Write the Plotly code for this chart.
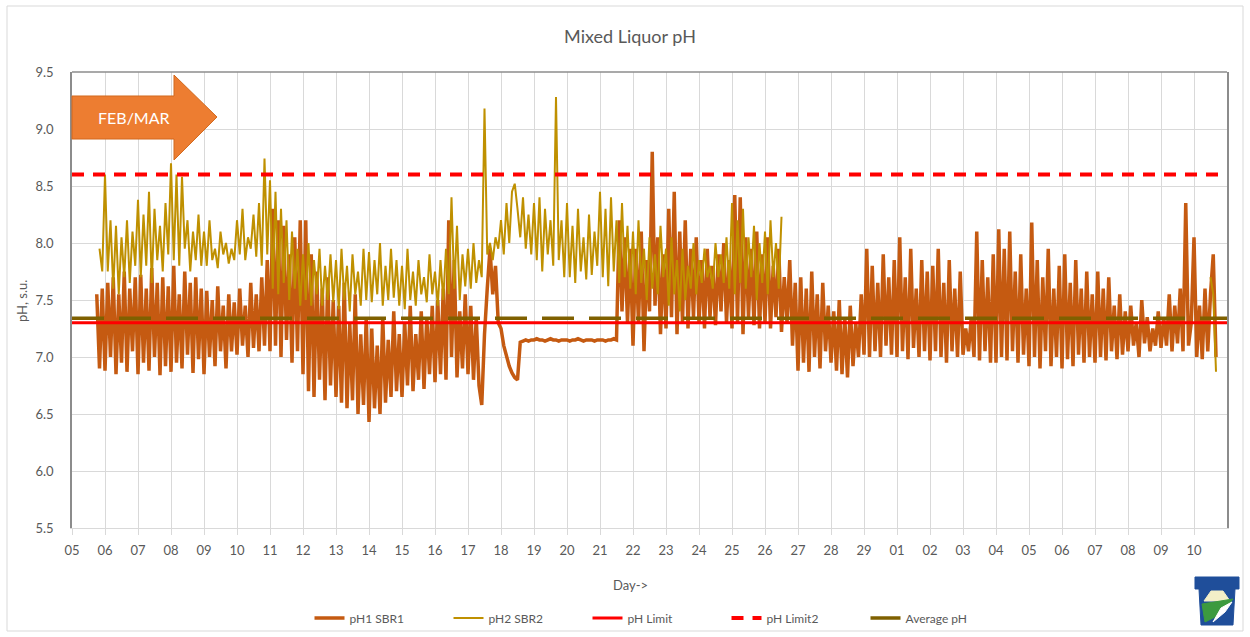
import plotly.graph_objects as go
import pandas as pd

# ---------------- DATA ----------------
START = pd.Timestamp("2020-02-05")
DAY_LABELS = ["05", "06", "07", "08", "09", "10", "11", "12", "13", "14", "15", "16",
              "17", "18", "19", "20", "21", "22", "23", "24", "25", "26", "27", "28",
              "29", "01", "02", "03", "04", "05", "06", "07", "08", "09", "10"]
HOURS = [0, 2, 4, 6, 8, 10, 12, 14, 16, 18, 20, 22]

# pH1 SBR1, one row per day (2-hourly readings, None = no reading)
SBR1_DAYS = [
    [None, None, None, None, None, None, None, None, None, 7.55, 6.90, 7.60],
    [6.88, 7.65, 7.00, 7.70, 6.85, 7.55, 6.95, 7.75, 6.87, 7.60, 7.05, 7.70],
    [6.85, 7.72, 6.95, 7.60, 6.88, 7.78, 7.00, 7.65, 6.84, 7.70, 6.92, 7.62],
    [6.87, 7.80, 6.95, 7.55, 6.90, 7.75, 7.02, 7.65, 6.86, 7.70, 6.98, 7.60],
    [6.85, 7.58, 7.00, 7.50, 6.92, 7.62, 7.05, 7.45, 6.90, 7.55, 7.05, 7.48],
    [7.02, 7.60, 7.10, 7.45, 7.00, 7.65, 7.08, 7.55, 7.05, 7.70, 7.10, 7.85],
    [7.05, 8.30, 7.10, 8.20, 7.00, 8.15, 7.15, 7.90, 6.95, 8.05, 7.05, 8.20],
    [6.85, 8.20, 6.70, 7.90, 6.65, 7.75, 6.80, 7.60, 6.62, 7.70, 6.75, 7.50],
    [6.65, 7.45, 6.60, 7.65, 6.55, 7.30, 6.62, 7.55, 6.50, 7.20, 6.58, 7.35],
    [6.43, 7.25, 6.55, 7.10, 6.50, 7.35, 6.60, 7.15, 6.65, 7.40, 6.70, 7.20],
    [6.65, 7.30, 6.75, 7.45, 6.70, 7.20, 6.80, 7.40, 6.72, 7.35, 6.85, 7.45],
    [6.78, 7.50, 6.85, 7.60, 6.80, 8.20, 7.00, 7.85, 6.82, 7.40, 6.90, 7.55],
    [6.85, 7.45, 6.80, 7.35, 6.75, 6.58, 7.20, 7.60, 7.95, 7.55, 7.80, 7.30],
    [7.25, 7.10, 7.00, 6.92, 6.86, 6.82, 6.80, 7.13, 7.14, 7.15, 7.14, 7.15],
    [7.15, 7.16, 7.15, 7.15, 7.14, 7.15, 7.16, 7.15, 7.15, 7.14, 7.15, 7.15],
    [7.15, 7.14, 7.15, 7.15, 7.16, 7.15, 7.14, 7.15, 7.15, 7.15, 7.14, 7.15],
    [7.15, 7.15, 7.14, 7.15, 7.15, 7.16, 7.15, 8.20, 7.40, 8.05, 7.30, 7.95],
    [7.10, 7.95, 7.30, 8.10, 7.05, 7.85, 7.40, 8.80, 7.45, 8.05, 7.20, 7.90],
    [7.25, 8.30, 7.35, 8.45, 7.20, 8.10, 7.30, 8.20, 7.25, 7.95, 7.35, 8.05],
    [7.30, 7.85, 7.25, 7.95, 7.35, 7.80, 7.28, 7.90, 7.40, 8.00, 7.30, 7.85],
    [7.25, 8.42, 7.30, 8.40, 7.20, 8.05, 7.35, 7.95, 7.28, 8.10, 7.25, 7.90],
    [7.30, 8.05, 7.25, 7.80, 7.35, 7.95, 7.22, 7.70, 7.30, 7.85, 7.10, 7.65],
    [6.88, 7.70, 6.95, 7.60, 6.87, 7.75, 7.00, 7.55, 6.90, 7.65, 7.05, 7.45],
    [6.95, 7.40, 6.88, 7.50, 6.85, 7.35, 6.82, 7.45, 6.92, 7.30, 7.00, 7.55],
    [7.02, 7.95, 7.00, 7.80, 7.05, 7.65, 7.00, 7.90, 7.10, 7.70, 7.02, 7.85],
    [7.00, 8.05, 7.05, 7.70, 6.98, 7.95, 7.08, 7.60, 7.00, 7.85, 7.05, 7.75],
    [6.97, 7.80, 7.05, 7.95, 7.00, 7.65, 6.95, 7.85, 7.05, 7.60, 7.00, 7.75],
    [7.02, 7.25, 7.05, 7.35, 7.00, 8.10, 6.97, 7.85, 7.05, 7.70, 6.95, 7.90],
    [6.95, 8.12, 7.00, 7.95, 6.97, 8.10, 7.05, 7.75, 6.95, 7.90, 7.02, 7.60],
    [6.92, 8.18, 7.00, 7.85, 6.90, 7.70, 7.05, 7.95, 6.92, 7.60, 7.00, 7.80],
    [6.90, 7.90, 6.98, 7.65, 6.92, 7.85, 7.02, 7.60, 6.95, 7.75, 7.00, 7.55],
    [6.95, 7.75, 7.00, 7.60, 6.97, 7.70, 7.05, 7.45, 6.98, 7.55, 7.02, 7.40],
    [7.05, 7.45, 7.10, 7.30, 7.00, 7.50, 7.12, 7.35, 7.05, 7.25, 7.10, 7.40],
    [7.08, 7.35, 7.10, 7.55, 7.05, 7.45, 7.12, 7.60, 7.05, 8.35, 7.10, 7.30],
    [8.05, 7.00, 7.45, 6.98, 7.60, 7.05, 7.55, 7.90, 7.00, None, None, None],
]

# pH2 SBR2, one row per day (2-hourly readings)
SBR2_DAYS = [
    [None, None, None, None, None, None, None, None, None, None, 7.95, 7.75],
    [8.60, 7.75, 8.20, 7.60, 8.15, 7.55, 8.05, 7.70, 8.20, 7.65, 8.10, 7.80],
    [8.38, 7.70, 8.25, 7.80, 8.45, 7.65, 8.30, 7.85, 8.15, 7.75, 8.35, 7.90],
    [8.70, 7.85, 8.60, 7.80, 8.58, 7.95, 8.20, 7.75, 8.10, 7.85, 8.25, 7.80],
    [8.10, 7.80, 8.20, 7.85, 7.95, 7.78, 8.10, 7.90, 8.00, 7.82, 7.95, 7.85],
    [8.20, 7.90, 8.30, 7.85, 8.05, 7.95, 8.25, 7.88, 8.35, 7.80, 8.74, 7.90],
    [8.55, 7.60, 8.45, 7.55, 8.30, 7.65, 8.20, 7.50, 8.10, 7.60, 7.95, 7.45],
    [7.90, 7.50, 8.00, 7.45, 7.85, 7.55, 7.95, 7.45, 7.80, 7.50, 7.90, 7.48],
    [7.85, 7.42, 7.95, 7.50, 7.80, 7.40, 7.90, 7.55, 7.75, 7.45, 7.95, 7.50],
    [7.92, 7.48, 7.85, 7.55, 8.00, 7.45, 7.80, 7.50, 7.95, 7.52, 7.85, 7.45],
    [7.80, 7.42, 7.95, 7.50, 7.75, 7.45, 7.85, 7.55, 7.70, 7.48, 7.90, 7.55],
    [7.75, 7.45, 7.85, 7.50, 7.95, 7.55, 8.40, 7.60, 8.15, 7.50, 7.90, 7.62],
    [7.95, 7.60, 8.00, 7.65, 7.85, 7.70, 9.18, 7.90, 8.00, 7.85, 8.05, 7.95],
    [8.20, 7.90, 8.35, 8.00, 8.45, 8.52, 8.30, 8.05, 8.40, 7.95, 8.25, 7.90],
    [8.35, 7.85, 8.40, 7.75, 8.30, 7.90, 8.20, 7.80, 9.28, 7.85, 8.20, 7.70],
    [8.35, 7.70, 8.15, 7.65, 8.30, 7.75, 8.05, 7.68, 8.25, 7.72, 8.10, 7.80],
    [8.45, 7.70, 8.30, 7.62, 8.40, 7.75, 8.20, 7.65, 8.35, 7.70, 8.15, 7.60],
    [8.10, 7.55, 8.20, 7.65, 7.95, 7.50, 8.05, 7.60, 7.90, 7.55, 8.15, 7.70],
    [7.95, 7.45, 8.05, 7.55, 7.85, 7.40, 7.95, 7.50, 7.80, 7.60, 8.00, 7.55],
    [7.85, 7.65, 7.95, 7.70, 7.80, 7.60, 8.00, 7.70, 7.90, 7.65, 8.05, 7.60],
    [8.35, 7.55, 8.20, 7.65, 8.30, 7.60, 8.05, 7.70, 8.15, 7.50, 8.00, 7.65],
    [8.10, 7.55, 8.20, 7.70, 8.00, 7.60, 8.23, None, None, None, None, None],
]
SBR2_TAIL_DAY = 34
SBR2_TAIL = [None, None, None, None, None, None, 7.70, 7.55, 6.87, None, None, None]

PH_LIMIT = 7.3
PH_LIMIT2 = 8.6
AVG_PH = 7.34

# ---------------- BUILD ----------------
def flatten(rows, first_day=0):
    xs, ys = [], []
    for d, row in enumerate(rows):
        for h, v in zip(HOURS, row):
            xs.append(START + pd.Timedelta(days=first_day + d, hours=h))
            ys.append(v)
    return xs, ys

x1, y1 = flatten(SBR1_DAYS)
x2, y2 = flatten(SBR2_DAYS)
xt, yt = flatten([SBR2_TAIL], SBR2_TAIL_DAY)
x2 = x2 + [None] + xt
y2 = y2 + [None] + yt

day_ticks = [START + pd.Timedelta(days=i) for i in range(len(DAY_LABELS))]
x_end = START + pd.Timedelta(days=len(DAY_LABELS))

FONT = "Lato, 'Open Sans', sans-serif"
GREY = "#595959"

fig = go.Figure()
fig.add_trace(go.Scatter(x=x1, y=y1, mode="lines", name="pH1 SBR1",
                         line=dict(color="#C55A11", width=3.5)))
fig.add_trace(go.Scatter(x=x2, y=y2, mode="lines", name="pH2 SBR2",
                         line=dict(color="#BF9000", width=2)))
fig.add_trace(go.Scatter(x=[START, x_end], y=[PH_LIMIT, PH_LIMIT], mode="lines",
                         name="pH Limit", line=dict(color="#FF0000", width=3)))
fig.add_trace(go.Scatter(x=[START, x_end], y=[PH_LIMIT2, PH_LIMIT2], mode="lines",
                         name="pH Limit2", line=dict(color="#FF0000", width=4, dash="12px,9px")))
fig.add_trace(go.Scatter(x=[START, x_end], y=[AVG_PH, AVG_PH], mode="lines",
                         name="Average pH", line=dict(color="#7F6000", width=3.5, dash="32px,15px")))

def PX(x):
    return (x - 72) / 1155.0

def PY(y):
    return (528 - y) / 456.0

def path(points):
    s = "M " + " L ".join(f"{PX(a):.5f},{PY(b):.5f}" for a, b in points) + " Z"
    return s

shapes = [
    # outer chart border
    dict(type="rect", xref="paper", yref="paper", x0=PX(7), x1=PX(1243), y0=PY(631), y1=PY(6),
         line=dict(color="#d9d9d9", width=1), fillcolor="rgba(0,0,0,0)", layer="below"),
    # top frame line
    dict(type="line", xref="paper", yref="paper", x0=0, x1=1, y0=1, y1=1,
         line=dict(color="#8c8c8c", width=1.5)),
    # FEB/MAR arrow
    dict(type="path", xref="paper", yref="paper",
         path=path([(72, 96), (174, 96), (174, 75), (217, 117), (174, 160), (174, 139), (72, 139)]),
         fillcolor="#ED7D31", line=dict(color="#D2691E", width=1)),
    # logo keystone
    dict(type="path", xref="paper", yref="paper",
         path=path([(1195, 577), (1239, 577), (1239, 589), (1235, 589), (1233, 625),
                    (1201, 625), (1199, 589), (1195, 589)]),
         fillcolor="#1F4E9A", line=dict(color="#1F4E9A", width=1)),
    dict(type="path", xref="paper", yref="paper",
         path=path([(1204, 601), (1211, 591), (1223, 591), (1230, 601)]),
         fillcolor="#F3EFC8", line=dict(color="#F3EFC8", width=1)),
    dict(type="path", xref="paper", yref="paper",
         path=path([(1202, 604), (1233, 599), (1221, 614), (1205, 622)]),
         fillcolor="#3C9A3F", line=dict(color="#3C9A3F", width=1)),
    dict(type="path", xref="paper", yref="paper",
         path=path([(1213, 622), (1221, 608), (1232, 602), (1225, 612)]),
         fillcolor="#FFFFFF", line=dict(color="#FFFFFF", width=1)),
]

annotations = [
    dict(text="FEB/MAR", xref="paper", yref="paper", x=PX(134), y=PY(117), showarrow=False,
         xanchor="center", yanchor="middle",
         font=dict(family=FONT, size=16, color="white")),
    dict(text="Day->", xref="paper", yref="paper", x=PX(630), y=PY(585), showarrow=False,
         xanchor="center", yanchor="middle",
         font=dict(family=FONT, size=13, color=GREY)),
    dict(text="pH, s.u.", xref="paper", yref="paper", x=PX(22), y=PY(301), showarrow=False,
         xanchor="center", yanchor="middle",
         textangle=-90, font=dict(family=FONT, size=13, color=GREY)),
]

fig.update_layout(
    width=1250, height=637,
    paper_bgcolor="white", plot_bgcolor="white",
    margin=dict(l=72, r=23, t=72, b=109, autoexpand=False),
    font=dict(family=FONT, size=13, color=GREY),
    title=dict(text="Mixed Liquor pH", x=630 / 1250, xanchor="center", y=1 - 37 / 637,
               yanchor="middle", font=dict(family=FONT, size=18, color=GREY)),
    showlegend=True,
    legend=dict(orientation="h", x=PX(657), xanchor="center", y=PY(618), yanchor="middle",
                font=dict(family=FONT, size=12, color=GREY), bgcolor="rgba(0,0,0,0)",
                entrywidth=94, entrywidthmode="pixels"),
    shapes=shapes,
    annotations=annotations,
)
fig.update_xaxes(
    type="date", range=[START, x_end],
    tickvals=day_ticks, ticktext=DAY_LABELS,
    showgrid=True, gridcolor="#d9d9d9", gridwidth=1,
    showline=True, linecolor="#d9d9d9", linewidth=1,
    ticks="outside", ticklen=6, tickcolor="#d9d9d9",
    ticklabelstandoff=4, tickfont=dict(size=13, color=GREY),
    zeroline=False,
)
fig.update_yaxes(
    range=[5.5, 9.5], dtick=0.5, tick0=5.5, tickformat=".1f",
    showgrid=True, gridcolor="#d9d9d9", gridwidth=1,
    showline=True, linecolor="#8c8c8c", linewidth=1.5, mirror=True,
    ticks="", ticklabelstandoff=14, tickfont=dict(size=13, color=GREY),
    zeroline=False,
)

fig.write_html("out.html", config={"displayModeBar": False},
               post_script="document.body.style.margin='0px';")
